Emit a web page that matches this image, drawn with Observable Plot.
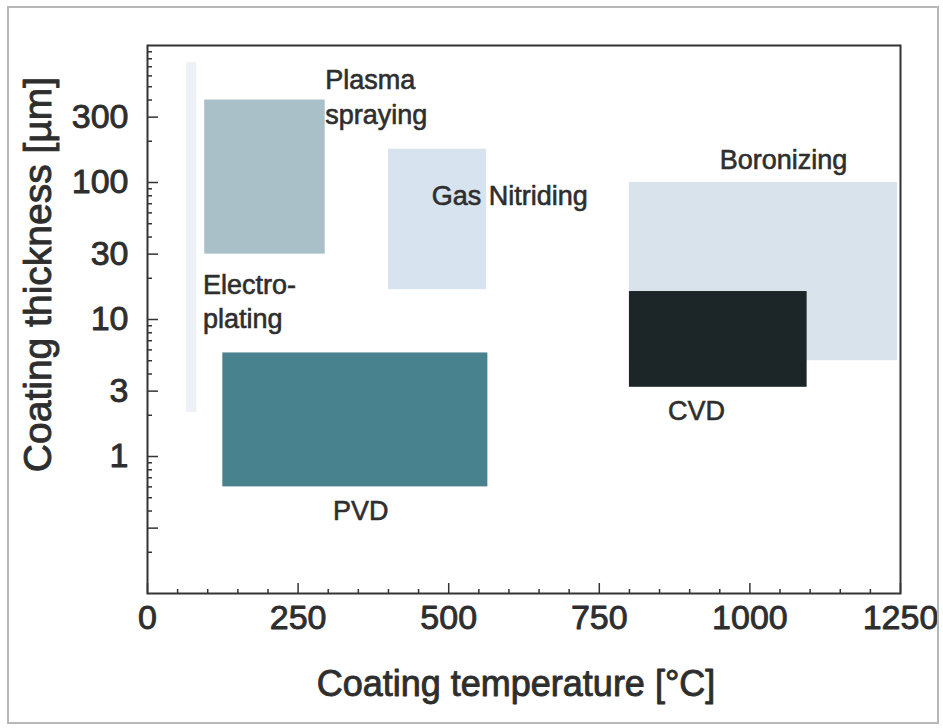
<!DOCTYPE html>
<html>
<head>
<meta charset="utf-8">
<script src="https://cdn.jsdelivr.net/npm/d3@7"></script>
<script src="https://cdn.jsdelivr.net/npm/@observablehq/plot@0.6"></script>
<style>
  html, body { margin: 0; padding: 0; background: #fff; }
  #wrap { position: relative; width: 943px; height: 728px; }
  #border { position: absolute; left: 7px; top: 6px; width: 928px; height: 714px; border: 2px solid #b8b8b8; pointer-events: none; }
</style>
</head>
<body>
<div id="wrap"><div id="border"></div><div id="chart"></div></div>
<script>
// Processes (coating technologies) with temperature range [°C] and thickness range [µm]
const processes = ["Electroplating", "Plasma spraying", "Gas Nitriding", "PVD", "Boronizing", "CVD"];
const tempMin  = [65, 95, 400, 125, 800, 800];
const tempMax  = [82, 295, 563, 565, 1245, 1095];
const thickMin = [2.1, 30, 16.5, 0.6, 5, 3.2];
const thickMax = [750, 400, 175, 5.7, 100, 16];
const fills    = ["#eef2f6", "#a9c0c8", "#d7e3ee", "#48828f", "#d9e3ec", "#1c2527"];

// Annotation labels
const labelText = ["Plasma\nspraying", "Gas Nitriding", "Boronizing", "Electro-\nplating", "CVD", "PVD"];
const labelX    = [295, 472, 950, 92, 864, 308];
const labelY    = [432, 83, 150, 13.8, 2.24, 0.417];

// Axes
const xTicks      = [0, 250, 500, 750, 1000, 1250];
const xMinorTicks = [50, 100, 150, 200, 300, 350, 400, 450, 550, 600, 650, 700, 800, 850, 900, 950, 1050, 1100, 1150, 1200];
const yTicks      = [1, 3, 10, 30, 100, 300];
const yMajorTicks = [0.3, 1, 3, 10, 30, 100, 300];
const yMinorTicks = [0.2, 0.4, 0.5, 0.6, 0.7, 0.8, 0.9,
                     2, 4, 5, 6, 7, 8, 9,
                     20, 40, 50, 60, 70, 80, 90,
                     200, 400, 500, 600, 700, 800, 900];
const xTitle = "Coating temperature [°C]";
const yTitle = "Coating thickness [µm]";

const rects = processes.map((p, i) => ({
  process: p, x1: tempMin[i], x2: tempMax[i], y1: thickMin[i], y2: thickMax[i], fill: fills[i]
}));
const labels = labelText.map((t, i) => ({text: t, x: labelX[i], y: labelY[i]}));

const W = 943, H = 728, mL = 147, mR = 43, mT = 45, mB = 135;
const innerW = W - mL - mR, innerH = H - mT - mB;
const ink = "#2e2e2e";
const heavy = {fill: ink, stroke: ink, strokeWidth: 0.9};

const chart = Plot.plot({
  width: W, height: H,
  marginLeft: mL, marginRight: mR, marginTop: mT, marginBottom: mB,
  style: {fontFamily: "'Liberation Sans', Arial, sans-serif", fontSize: "34px", color: ink, background: "transparent"},
  x: {domain: [0, 1250], label: null, axis: null},
  y: {type: "log", domain: [0.1, 1000], label: null, axis: null},
  color: {type: "identity"},
  marks: [
    Plot.rect(rects, {x1: "x1", x2: "x2", y1: "y1", y2: "y2", fill: "fill"}),
    Plot.text(labels, {x: "x", y: "y", text: "text", textAnchor: "start", fontSize: 27, lineHeight: 1.27, fill: ink, stroke: ink, strokeWidth: 0.6}),
    // inward tick marks
    Plot.tickX(xTicks, {x: d => d, insetTop: innerH - 10, stroke: "#333", strokeWidth: 1.5}),
    Plot.tickX(xMinorTicks, {x: d => d, insetTop: innerH - 4, stroke: "#333", strokeWidth: 1.5}),
    Plot.tickY(yMajorTicks, {y: d => d, insetRight: innerW - 11, stroke: "#333", strokeWidth: 1.5}),
    Plot.tickY(yMinorTicks, {y: d => d, insetRight: innerW - 5, stroke: "#333", strokeWidth: 1.5}),
    // tick labels
    Plot.text(xTicks, {x: d => d, text: d => String(d), frameAnchor: "bottom", textAnchor: "middle", dy: 35, fontSize: 34, ...heavy}),
    Plot.text(yTicks, {y: d => d, text: d => String(d), frameAnchor: "left", textAnchor: "end", dx: -19, fontSize: 34, ...heavy}),
    Plot.frame({stroke: "#333", strokeWidth: 2}),
    // axis titles
    Plot.text([xTitle], {frameAnchor: "bottom", textAnchor: "middle", dx: -8, dy: 102, fontSize: 36, ...heavy}),
    Plot.text([yTitle], {frameAnchor: "left", textAnchor: "middle", rotate: -90, dx: -109, dy: -45, fontSize: 39, ...heavy})
  ]
});
document.getElementById("chart").appendChild(chart);
</script>
</body>
</html>
